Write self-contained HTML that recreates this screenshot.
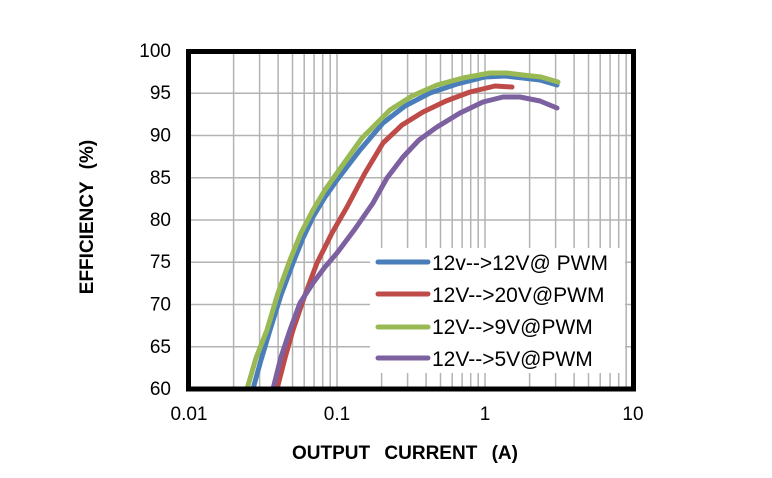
<!DOCTYPE html>
<html><head><meta charset="utf-8"><style>
html,body{margin:0;padding:0;background:#fff}
svg{display:block}
text{font-family:"Liberation Sans",Arial,sans-serif}
</style></head><body>
<svg width="772" height="478" viewBox="0 0 772 478" xmlns="http://www.w3.org/2000/svg">
<rect width="772" height="478" fill="#fff"/>
<g stroke="#b3b3b3" stroke-width="1.5">
<path d="M233.6,51V389M259.6,51V389M278.1,51V389M292.5,51V389M304.2,51V389M314.1,51V389M322.7,51V389M330.2,51V389M337,51V389M381.6,51V389M407.6,51V389M426.1,51V389M440.5,51V389M452.2,51V389M462.1,51V389M470.7,51V389M478.2,51V389M485,51V389M529.6,51V389M555.6,51V389M574.1,51V389M588.5,51V389M600.2,51V389M610.1,51V389M618.7,51V389M626.2,51V389"/>
<path d="M188,346.75H633M188,304.5H633M188,262.25H633M188,220H633M188,177.75H633M188,135.5H633M188,93.25H633"/>
</g>
<g fill="none" stroke-width="5" stroke-linejoin="round" stroke-linecap="round">
<polyline stroke="#4a7ebb" points="253,389 261,360 270,330 281,295 293,263 303,238 313,217 325,197 337,180 360,150 383,123 405,106 430,93 457,84 485,77 505,76 523,78 540,80 557,85"/>
<polyline stroke="#be4b48" points="277,389 285,358 293,330 305,295 317,263 332,233 347,207 365,173 383,143 402,125 423,112 446,101 470,92 495,86 512,87"/>
<polyline stroke="#98b954" points="247,389 256,358 267,330 278,293 290,260 301,233 313,210 325,190 337,173 362,138 390,110 412,96 437,85 463,78 490,73 507,73 523,75 541,77 558,82"/>
<polyline stroke="#7d60a0" points="273,389 281,357 290,330 300,303 313,283 325,267 337,253 355,229 373,203 387,178 403,157 419,140 437,127 460,113 483,102 503,97 520,97 540,101 557,108"/>
</g>
<rect x="370" y="248" width="255" height="125" fill="#fff"/>
<g stroke-width="5" stroke-linecap="round">
<line x1="378" y1="262" x2="428" y2="262" stroke="#4a7ebb"/>
<line x1="378" y1="294" x2="428" y2="294" stroke="#be4b48"/>
<line x1="378" y1="327" x2="428" y2="327" stroke="#98b954"/>
<line x1="378" y1="358" x2="428" y2="358" stroke="#7d60a0"/>
</g>
<g font-size="21" fill="#000">
<text x="432" y="270">12v--&gt;12V@ PWM</text>
<text x="432" y="302">12V--&gt;20V@PWM</text>
<text x="432" y="334">12V--&gt;9V@PWM</text>
<text x="432" y="366">12V--&gt;5V@PWM</text>
</g>
<rect x="188.5" y="51.5" width="445" height="337.5" fill="none" stroke="#000" stroke-width="5"/>
<g font-size="19" text-anchor="end">
<text x="171" y="57">100</text>
<text x="171" y="99">95</text>
<text x="171" y="141.5">90</text>
<text x="171" y="184">85</text>
<text x="171" y="226">80</text>
<text x="171" y="268">75</text>
<text x="171" y="310.5">70</text>
<text x="171" y="353">65</text>
<text x="171" y="395">60</text>
</g>
<g font-size="19" text-anchor="middle">
<text x="189" y="420">0.01</text>
<text x="337" y="420">0.1</text>
<text x="485" y="420">1</text>
<text x="633" y="420">10</text>
</g>
<text x="405" y="459" font-size="19" font-weight="bold" text-anchor="middle" word-spacing="9">OUTPUT CURRENT (A)</text>
<text transform="translate(93,217) rotate(-90)" font-size="19" font-weight="bold" text-anchor="middle" word-spacing="7">EFFICIENCY (%)</text>
</svg>
</body></html>
